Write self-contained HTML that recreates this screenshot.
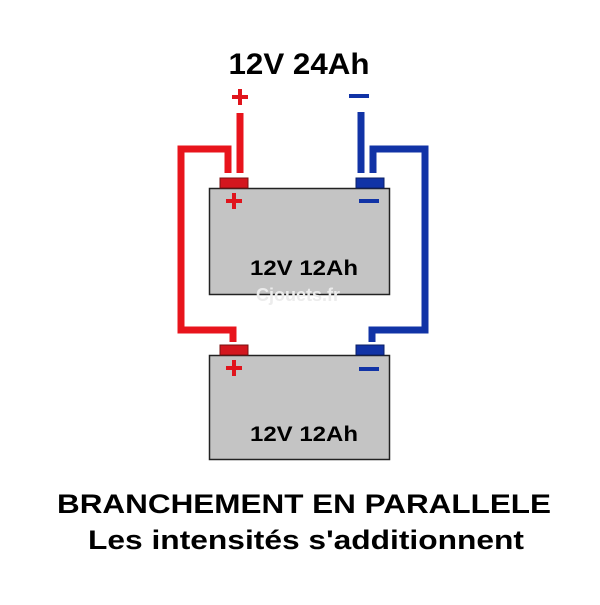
<!DOCTYPE html>
<html><head><meta charset="utf-8"><style>body{margin:0;background:#fff}</style></head><body>
<svg width="600" height="600" viewBox="0 0 600 600" xmlns="http://www.w3.org/2000/svg" font-family="Liberation Sans, Arial, sans-serif" font-weight="bold">
<rect width="600" height="600" fill="#fff"/>
<text x="299" y="74" font-size="30" text-anchor="middle" textLength="141" lengthAdjust="spacingAndGlyphs">12V 24Ah</text>
<rect x="232" y="95" width="16" height="4" fill="#e0141c"/>
<rect x="238" y="89" width="4" height="16" fill="#e0141c"/>
<rect x="349" y="94" width="20" height="4" fill="#1133a6"/>
<rect x="209.5" y="188.5" width="180" height="106" fill="#c4c4c4" stroke="#222" stroke-width="1.5"/>
<rect x="209.5" y="355.5" width="180" height="104" fill="#c4c4c4" stroke="#222" stroke-width="1.5"/>
<rect x="220" y="178" width="28" height="10" fill="#d3161e" stroke="#7a1010" stroke-width="1"/>
<rect x="356" y="178" width="28" height="10" fill="#1133a6" stroke="#0a1f66" stroke-width="1"/>
<rect x="220" y="345" width="28" height="10" fill="#d3161e" stroke="#7a1010" stroke-width="1"/>
<rect x="356" y="345" width="28" height="10" fill="#1133a6" stroke="#0a1f66" stroke-width="1"/>
<g fill="none" stroke="#e8141c" stroke-width="7">
<line x1="240" y1="113" x2="240" y2="173"/>
<polyline points="228,173 228,149 181,149 181,330 233,330 233,342"/>
</g>
<g fill="none" stroke="#1133a6" stroke-width="7">
<line x1="361" y1="112" x2="361" y2="173"/>
<polyline points="373,173 373,149 425,149 425,330 372,330 372,342"/>
</g>
<g fill="#e0141c">
<rect x="226" y="199" width="16" height="4"/><rect x="232" y="193" width="4" height="16"/>
<rect x="226" y="366" width="16" height="4"/><rect x="232" y="360" width="4" height="16"/>
</g>
<g fill="#1133a6">
<rect x="359" y="199" width="20" height="4"/>
<rect x="359" y="367" width="20" height="4"/>
</g>
<text x="304" y="275" font-size="21" text-anchor="middle" textLength="108" lengthAdjust="spacingAndGlyphs">12V 12Ah</text>
<text x="304" y="441" font-size="21" text-anchor="middle" textLength="108" lengthAdjust="spacingAndGlyphs">12V 12Ah</text>
<text x="298" y="301" font-size="18" text-anchor="middle" fill="#ececec">Cjouets.fr</text>
<text x="304" y="513" font-size="27" text-anchor="middle" textLength="494" lengthAdjust="spacingAndGlyphs">BRANCHEMENT EN PARALLELE</text>
<text x="306" y="549" font-size="27" text-anchor="middle" textLength="436" lengthAdjust="spacingAndGlyphs">Les intensités s'additionnent</text>
</svg>
</body></html>
